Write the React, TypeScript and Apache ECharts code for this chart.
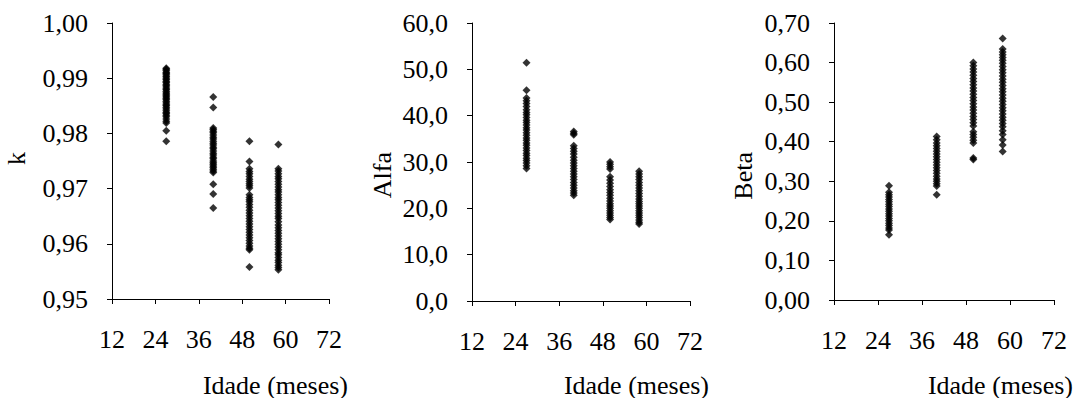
import React, { useEffect, useRef } from "react";
import * as echarts from "echarts";

const ages = [27, 40, 50, 58];
const xTicks = { min: 12, max: 72, interval: 12 };

const kAge27 = [0.9918, 0.9916, 0.9914, 0.9911, 0.9909, 0.9907, 0.9904, 0.9902, 0.9899, 0.9897, 0.9894, 0.9892, 0.9889, 0.9887, 0.9884, 0.9881, 0.9879, 0.9876, 0.9873, 0.9871, 0.9868, 0.9866, 0.9863, 0.9861, 0.9858, 0.9855, 0.9852, 0.9850, 0.9847, 0.9844, 0.9841, 0.9838, 0.9836, 0.9833, 0.9830, 0.9826, 0.9822, 0.9819, 0.9805, 0.9786];
const kAge40 = [0.9866, 0.9847, 0.9810, 0.9807, 0.9804, 0.9801, 0.9797, 0.9793, 0.9790, 0.9786, 0.9782, 0.9779, 0.9775, 0.9772, 0.9768, 0.9764, 0.9761, 0.9757, 0.9754, 0.9750, 0.9747, 0.9744, 0.9741, 0.9738, 0.9735, 0.9732, 0.9729, 0.9708, 0.9690, 0.9665];
const kAge50 = [0.9786, 0.9749, 0.9736, 0.9731, 0.9727, 0.9722, 0.9717, 0.9713, 0.9709, 0.9705, 0.9701, 0.9689, 0.9684, 0.9680, 0.9676, 0.9671, 0.9666, 0.9661, 0.9656, 0.9651, 0.9646, 0.9641, 0.9636, 0.9631, 0.9626, 0.9621, 0.9616, 0.9611, 0.9606, 0.9601, 0.9596, 0.9592, 0.9589, 0.9558];
const kAge58 = [0.9780, 0.9736, 0.9732, 0.9727, 0.9722, 0.9718, 0.9713, 0.9708, 0.9703, 0.9698, 0.9694, 0.9689, 0.9684, 0.9680, 0.9675, 0.9670, 0.9665, 0.9660, 0.9655, 0.9650, 0.9646, 0.9640, 0.9634, 0.9629, 0.9624, 0.9619, 0.9614, 0.9609, 0.9604, 0.9599, 0.9594, 0.9589, 0.9584, 0.9580, 0.9575, 0.9570, 0.9566, 0.9561, 0.9557, 0.9553];

const alfaAge27 = [51.4, 45.5, 43.8, 43.2, 42.6, 42.0, 41.3, 40.7, 40.2, 39.6, 39.0, 38.5, 38.0, 37.4, 36.9, 36.3, 35.8, 35.2, 34.7, 34.1, 33.6, 33.0, 32.5, 31.9, 31.4, 30.8, 30.3, 29.8, 29.2, 28.6];
const alfaAge40 = [36.6, 36.2, 35.9, 33.5, 32.9, 32.3, 31.7, 31.0, 30.4, 29.8, 29.2, 28.6, 28.0, 27.4, 26.8, 26.2, 25.6, 25.0, 24.4, 23.8, 23.3, 22.8];
const alfaAge50 = [30.0, 29.5, 29.0, 28.5, 26.8, 26.1, 25.4, 24.7, 24.0, 23.4, 22.8, 22.2, 21.6, 21.0, 20.5, 20.0, 19.5, 19.0, 18.5, 18.0, 17.6];
const alfaAge58 = [28.0, 27.4, 26.8, 26.2, 25.6, 25.0, 24.4, 23.8, 23.2, 22.6, 22.0, 21.5, 21.0, 20.5, 20.0, 19.5, 19.0, 18.5, 18.0, 17.5, 17.0, 16.6];

const betaAge27 = [0.289, 0.272, 0.266, 0.260, 0.254, 0.248, 0.242, 0.236, 0.230, 0.224, 0.218, 0.212, 0.206, 0.200, 0.194, 0.188, 0.182, 0.177, 0.165];
const betaAge40 = [0.413, 0.405, 0.397, 0.390, 0.383, 0.376, 0.369, 0.362, 0.355, 0.348, 0.341, 0.334, 0.327, 0.320, 0.313, 0.306, 0.300, 0.294, 0.288, 0.266];
const betaAge50 = [0.600, 0.592, 0.584, 0.576, 0.568, 0.560, 0.552, 0.544, 0.536, 0.528, 0.520, 0.512, 0.504, 0.496, 0.488, 0.480, 0.472, 0.464, 0.456, 0.448, 0.440, 0.425, 0.418, 0.411, 0.404, 0.397, 0.359, 0.355];
const betaAge58 = [0.661, 0.634, 0.627, 0.620, 0.613, 0.606, 0.598, 0.590, 0.582, 0.574, 0.566, 0.558, 0.550, 0.542, 0.534, 0.526, 0.518, 0.510, 0.502, 0.494, 0.486, 0.478, 0.470, 0.462, 0.454, 0.446, 0.438, 0.428, 0.418, 0.405, 0.392, 0.375];

const panels = [
  { name: "k", groups: [kAge27, kAge40, kAge50, kAge58], min: 0.95, max: 1.0, interval: 0.01, digits: 2 },
  { name: "Alfa", groups: [alfaAge27, alfaAge40, alfaAge50, alfaAge58], min: 0, max: 60, interval: 10, digits: 1 },
  { name: "Beta", groups: [betaAge27, betaAge40, betaAge50, betaAge58], min: 0, max: 0.7, interval: 0.1, digits: 2 },
];
const xTitle = "Idade (meses)";

const grids = [
  { left: 112, top: 23, width: 217, height: 276 },
  { left: 472, top: 23, width: 218, height: 278 },
  { left: 834, top: 23, width: 220, height: 277 },
];
const yTitlePos = [16, 382, 743];

const FONT = "Liberation Serif";

export default function App() {
  const ref = useRef<HTMLDivElement>(null);
  useEffect(() => {
    if (!ref.current) return;
    const chart = echarts.init(ref.current, undefined, { renderer: "svg" });
    const axisCommon = {
      axisLine: { show: true, lineStyle: { color: "#000", width: 1 } },
      axisTick: { show: true, inside: false, length: 5, lineStyle: { color: "#000", width: 1 } },
      splitLine: { show: false },
    };
    const graphic: any[] = [];
    panels.forEach((p, i) => {
      const g = grids[i];
      graphic.push({
        type: "text",
        x: g.left + g.width + 19,
        y: 385,
        style: { text: xTitle, fontFamily: FONT, fontSize: 26, fill: "#000", align: "right", verticalAlign: "middle" },
      });
      graphic.push({
        type: "text",
        x: yTitlePos[i],
        y: 152,
        rotation: Math.PI / 2,
        style: { text: p.name, fontFamily: FONT, fontSize: 26, fill: "#000", align: "right", verticalAlign: "middle" },
      });
    });
    chart.setOption({
      animation: false,
      backgroundColor: "#fff",
      textStyle: { fontFamily: FONT },
      grid: grids.map((g) => ({ ...g, containLabel: false })),
      xAxis: panels.map((_, i) => ({
        type: "value",
        gridIndex: i,
        min: xTicks.min,
        max: xTicks.max,
        interval: xTicks.interval,
        ...axisCommon,
        axisLabel: { color: "#000", fontFamily: FONT, fontSize: 26, margin: 27 },
      })),
      yAxis: panels.map((p, i) => ({
        type: "value",
        gridIndex: i,
        min: p.min,
        max: p.max,
        interval: p.interval,
        ...axisCommon,
        axisLabel: {
          color: "#000",
          fontFamily: FONT,
          fontSize: 26,
          margin: 24,
          formatter: (v: number) => v.toFixed(p.digits).replace(".", ","),
        },
      })),
      series: panels.map((p, i) => ({
        type: "scatter",
        xAxisIndex: i,
        yAxisIndex: i,
        symbol: "diamond",
        symbolSize: 8,
        itemStyle: { color: "#000" },
        data: p.groups.flatMap((vals, gi) => vals.map((v) => [ages[gi], v])),
      })),
      graphic,
    });
    return () => chart.dispose();
  }, []);
  return (
    <div
      ref={ref}
      style={{ position: "absolute", left: 0, top: 0, width: 1075, height: 398 }}
    />
  );
}
